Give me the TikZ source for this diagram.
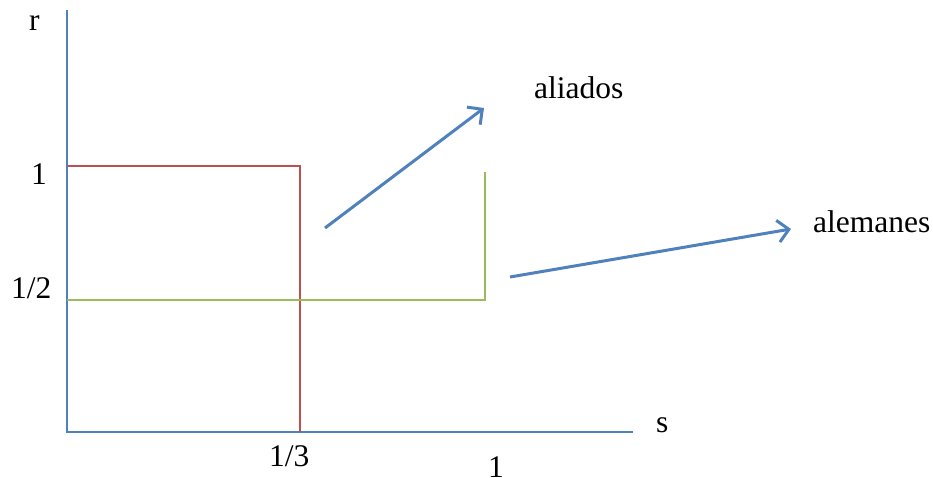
\documentclass[tikz,border=0pt]{standalone}
\usepackage{fontspec}
\setmainfont{Liberation Serif}
\usetikzlibrary{arrows.meta}
\definecolor{ablue}{HTML}{4F81BD}
\definecolor{ared}{HTML}{C0504D}
\definecolor{agreen}{HTML}{9BBB59}
\begin{document}
\begin{tikzpicture}[x=1pt,y=-1pt,
  lbl/.style={inner sep=0pt,anchor=base west,font=\fontsize{31.5}{36}\selectfont},
  axis/.style={draw=ablue,line width=2.2pt},
  redline/.style={draw=ared,line width=2.2pt},
  greenline/.style={draw=agreen,line width=2.6pt},
  arr/.style={draw=ablue,line width=3pt,-{Straight Barb[length=11pt,width=22pt,line width=3pt]}}]
\useasboundingbox (0,0) rectangle (933,477);
% axes
\coordinate (O) at (67,432);
\coordinate (ytop) at (67,10);
\coordinate (xend) at (633,432);
\draw[axis] (ytop) -- (O) -- (xend);
% red
\coordinate (r1) at (67,166);
\coordinate (r2) at (300,166);
\coordinate (r3) at (300,432);
\draw[redline] (r1) -- (r2) -- (r3);
% green
\coordinate (g1) at (67,300);
\coordinate (g2) at (485,300);
\coordinate (g3) at (485,172);
\draw[greenline] (g1) -- (g2) -- (g3);
% arrows
\coordinate (a1s) at (325,228);
\coordinate (a1e) at (484,108);
\coordinate (a2s) at (510,277);
\coordinate (a2e) at (791,229);
\draw[arr] (a1s) -- (a1e);
\draw[arr] (a2s) -- (a2e);
% labels
\node[lbl] (lr) at (29,30) {r};
\node[lbl] (l1) at (31,184) {1};
\node[lbl] (lhalf) at (11,298) {1/2};
\node[lbl] (lthird) at (269,466) {1/3};
\node[lbl] (lone) at (488,477) {1};
\node[lbl] (ls) at (656,432) {s};
\node[lbl] (lal) at (534,98) {aliados};
\node[lbl] (lale) at (813,232) {alemanes};
\end{tikzpicture}
\end{document}
